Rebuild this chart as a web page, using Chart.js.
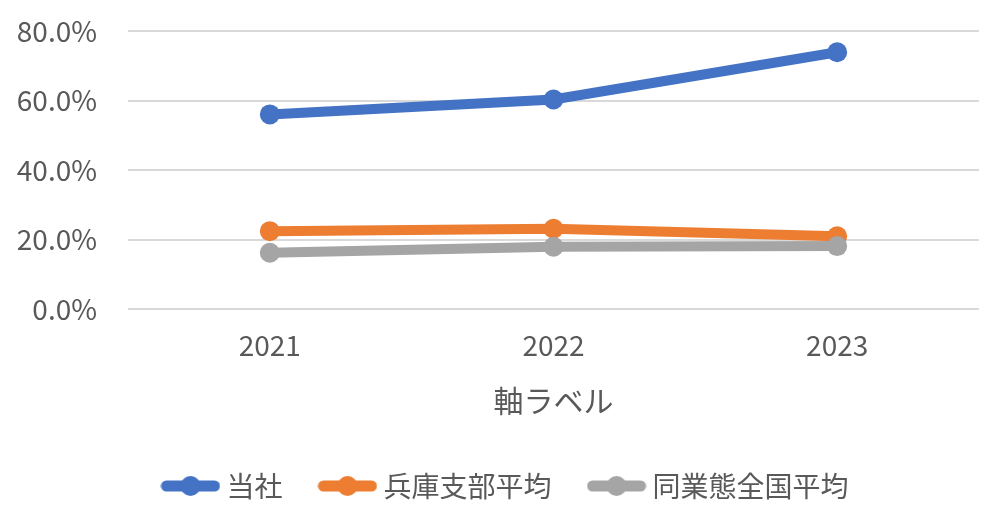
<!DOCTYPE html>
<html>
<head>
<meta charset="utf-8">
<script src="https://cdn.jsdelivr.net/npm/chart.js@4"></script>
<style>
  html, body { margin: 0; padding: 0; background: #fff; }
  #wrap { width: 1007px; height: 528px; }
</style>
</head>
<body>
<div id="wrap"><canvas id="lineChart" width="1007" height="528"></canvas></div>
<script>
// chart data
const years = ['2021', '2022', '2023'];
const seriesNames = ['当社', '兵庫支部平均', '同業態全国平均'];
const ownValues = [56.0, 60.3, 73.9];
const hyogoValues = [22.4, 23.1, 20.9];
const nationalValues = [16.2, 17.9, 18.1];
const yTicks = [0, 20, 40, 60, 80];
const xAxisTitle = '軸ラベル';

const colors = ['#4472c4', '#ed7d31', '#a5a5a5'];
const fontFamily = '"Noto Sans CJK JP", "Noto Sans", sans-serif';

// legend marker: thick line with a dot in the middle
function legendMarker(color) {
  const c = document.createElement('canvas');
  c.width = 60; c.height = 24;
  const g = c.getContext('2d');
  g.strokeStyle = color;
  g.lineWidth = 11;
  g.lineCap = 'round';
  g.beginPath();
  g.moveTo(6, 12);
  g.lineTo(54, 12);
  g.stroke();
  g.fillStyle = color;
  g.beginPath();
  g.arc(30, 12, 10, 0, Math.PI * 2);
  g.fill();
  return c;
}

// later series is painted on top, as in the original
function makeDataset(label, values, color, order) {
  return {
    label: label,
    data: values,
    order: order,
    borderColor: color,
    backgroundColor: color,
    borderWidth: 10,
    pointRadius: 10,
    pointHoverRadius: 10,
    pointBorderWidth: 0,
    tension: 0,
    legendImg: legendMarker(color)
  };
}

const datasets = [
  makeDataset(seriesNames[0], ownValues, colors[0], 2),
  makeDataset(seriesNames[1], hyogoValues, colors[1], 1),
  makeDataset(seriesNames[2], nationalValues, colors[2], 0)
];

// nudge the legend a bit to the right, like the original
const legendShift = {
  id: 'legendShift',
  afterLayout(chart) {
    chart.legend.left += 19;
    chart.legend.right += 19;
  }
};

new Chart(document.getElementById('lineChart'), {
  type: 'line',
  data: { labels: years, datasets: datasets },
  plugins: [legendShift],
  options: {
    responsive: false,
    animation: false,
    devicePixelRatio: 1,
    layout: { padding: { top: 31, right: 28, bottom: 18, left: 0 } },
    plugins: {
      tooltip: { enabled: false },
      legend: {
        position: 'bottom',
        labels: {
          usePointStyle: true,
          pointStyleWidth: 44,
          boxHeight: 24,
          padding: 43,
          color: '#595959',
          font: { family: fontFamily, size: 28 },
          generateLabels(chart) {
            return chart.data.datasets.map((d, i) => ({
              text: d.label,
              fillStyle: d.borderColor,
              strokeStyle: d.borderColor,
              lineWidth: 0,
              pointStyle: d.legendImg,
              fontColor: '#595959',
              datasetIndex: i
            }));
          }
        }
      }
    },
    scales: {
      x: {
        offset: true,
        grid: { display: false },
        border: { display: false },
        ticks: { color: '#595959', font: { family: fontFamily, size: 28 }, padding: 12 },
        title: {
          display: true,
          text: xAxisTitle,
          color: '#595959',
          font: { family: fontFamily, size: 30 },
          padding: { top: 8, bottom: 10.4 }
        }
      },
      y: {
        min: 0,
        max: 80,
        afterBuildTicks(axis) { axis.ticks = yTicks.map(v => ({ value: v })); },
        afterFit(axis) {
          axis.width = 128;
          axis.paddingTop = 0;
          axis.paddingBottom = 0;
        },
        grid: { color: '#d9d9d9', lineWidth: 2, drawTicks: false },
        border: { display: false },
        ticks: {
          color: '#595959',
          padding: 31,
          font: { family: fontFamily, size: 28 },
          callback: v => v.toFixed(1) + '%'
        }
      }
    }
  }
});
</script>
</body>
</html>
